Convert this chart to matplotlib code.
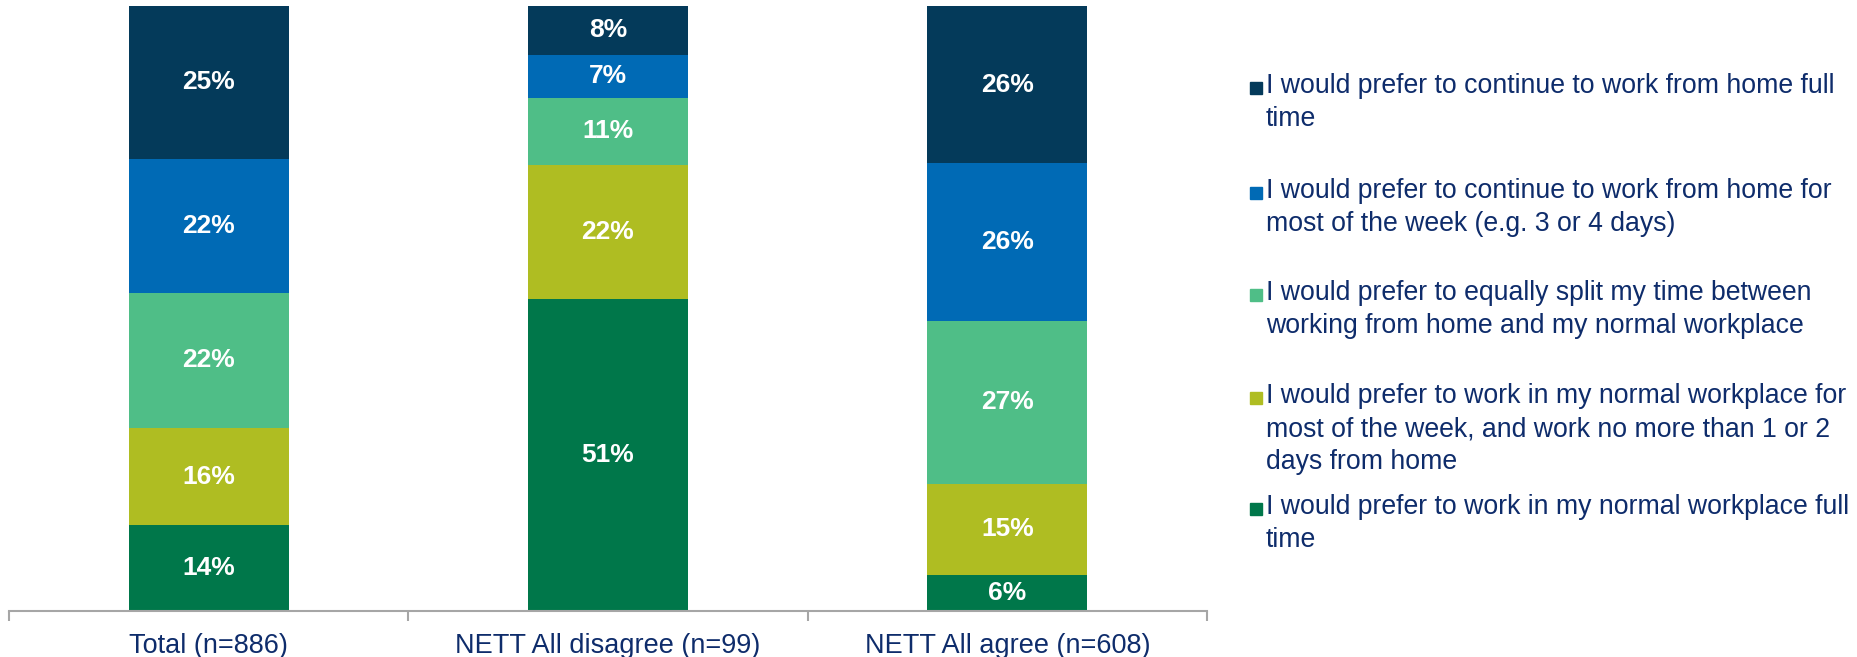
import numpy as np
import matplotlib.pyplot as plt
from matplotlib.patches import Rectangle

plt.rcParams['font.family'] = ['Liberation Sans', 'DejaVu Sans']

# Grupos e respostas (valores em %)
grupos = ['Total (n=886)', 'NETT All disagree (n=99)', 'NETT All agree (n=608)']

# Ordem de empilhamento: de baixo para cima
respostas = [
    'I would prefer to work in my normal workplace full\ntime',
    'I would prefer to work in my normal workplace for\nmost of the week, and work no more than 1 or 2\ndays from home',
    'I would prefer to equally split my time between\nworking from home and my normal workplace',
    'I would prefer to continue to work from home for\nmost of the week (e.g. 3 or 4 days)',
    'I would prefer to continue to work from home full\ntime',
]
workplace_full = [14, 51, 6]
workplace_most = [16, 22, 15]
split_equal = [22, 11, 27]
home_most = [22, 7, 26]
home_full = [25, 8, 26]

cores = ['#00774A', '#AFBD22', '#4FBE87', '#006AB5', '#043A5A']
cor_texto = '#0E2C6B'

valores = np.array([workplace_full, workplace_most, split_equal, home_most, home_full], dtype=float)
# Gráfico 100% empilhado: cada barra normalizada pelo seu total
proporcoes = valores / valores.sum(axis=0)

W, H = 1858, 657
fig = plt.figure(figsize=(W / 100, H / 100), dpi=100)
ax = fig.add_axes([9 / W, (H - 611) / H, (1207 - 9) / W, (611 - 6) / H])

x = np.arange(len(grupos))
base = np.zeros(len(grupos))
for i in range(len(respostas)):
    ax.bar(x, proporcoes[i], width=0.4, bottom=base, color=cores[i], edgecolor='none')
    for j in range(len(grupos)):
        ax.text(x[j], base[j] + proporcoes[i][j] / 2, f'{int(valores[i][j])}%',
                ha='center', va='center', color='white', fontsize=19, fontweight='bold')
    base += proporcoes[i]

ax.set_xlim(-0.5, len(grupos) - 0.5)
ax.set_ylim(0, 1)
for lado in ['top', 'right', 'left']:
    ax.spines[lado].set_visible(False)
ax.spines['bottom'].set_color('#A6A6A6')
ax.spines['bottom'].set_linewidth(1.5)
ax.set_yticks([])
ax.set_xticks(x)
ax.set_xticklabels(grupos, fontsize=19.5, color=cor_texto)
ax.tick_params(axis='x', which='major', length=0, pad=15.5)
ax.set_xticks(np.arange(-0.5, len(grupos)), minor=True)
ax.tick_params(axis='x', which='minor', length=7, width=1.5, color='#A6A6A6', direction='out')

# Legenda desenhada à mão, do topo para baixo
topos_legenda = [73, 178, 280, 383, 494]
for k, topo in enumerate(topos_legenda):
    i = len(respostas) - 1 - k
    fig.text(1266 / W, 1 - topo / H, respostas[i], ha='left', va='top',
             fontsize=19.2, color=cor_texto, linespacing=1.36)
    fig.patches.append(Rectangle((1250 / W, 1 - (topo + 21) / H), 12 / W, 12 / H,
                                 transform=fig.transFigure, color=cores[i]))

plt.savefig('out.png', dpi=100)
